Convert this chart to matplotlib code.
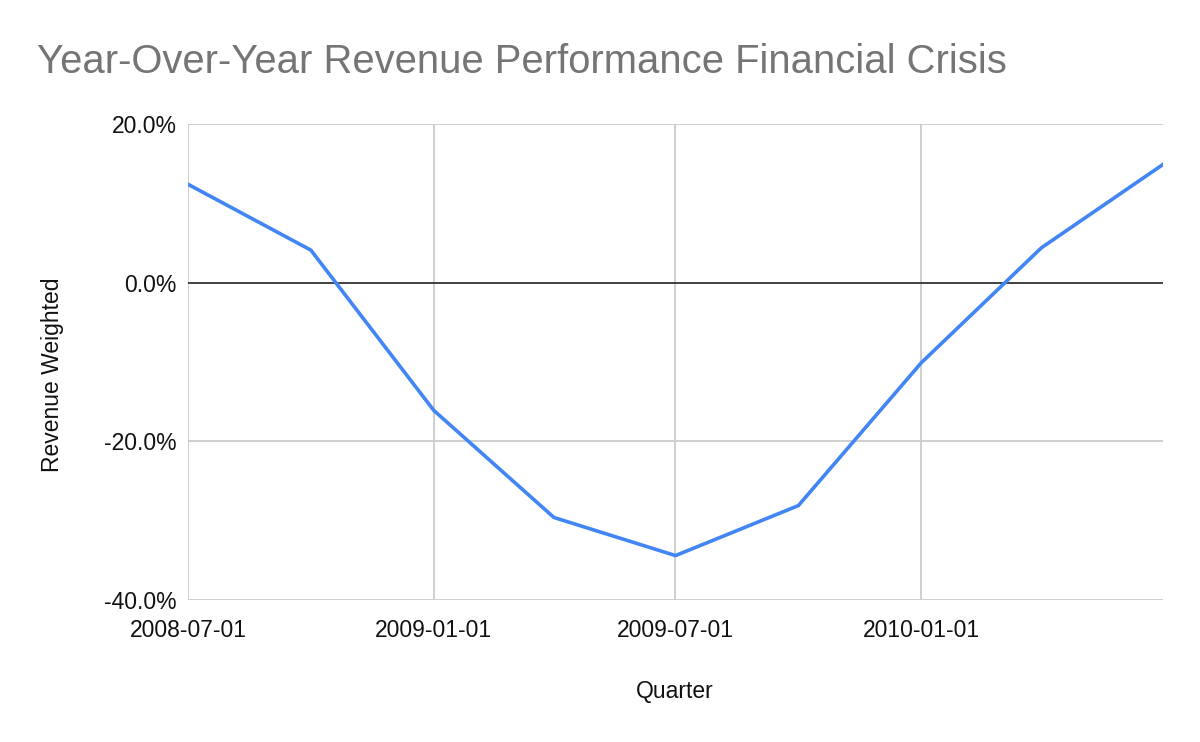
import numpy as np
import matplotlib
matplotlib.use("Agg")
from matplotlib import pyplot as plt
import matplotlib.dates as mdates
from matplotlib.ticker import FuncFormatter
import datetime as dt

plt.rcParams['font.family'] = ['Liberation Sans', 'DejaVu Sans']

# data
quarters = ["2008-07-01", "2008-10-01", "2009-01-01", "2009-04-01", "2009-07-01",
            "2009-10-01", "2010-01-01", "2010-04-01", "2010-07-01"]
revenue_weighted = [12.4, 4.1, -16.1, -29.6, -34.4, -28.1, -10.1, 4.4, 14.9]
tick_dates = ["2008-07-01", "2009-01-01", "2009-07-01", "2010-01-01"]
y_ticks = [20, 0, -20, -40]

dates = [dt.datetime.strptime(q, "%Y-%m-%d") for q in quarters]
tdates = [dt.datetime.strptime(q, "%Y-%m-%d") for q in tick_dates]

fig = plt.figure(figsize=(12, 7.42), dpi=100)
ax = fig.add_axes([188/1200, 1-600/742, (1163-188)/1200, (600-124)/742])

for d in tdates:
    ax.axvline(d, color="#cccccc", lw=1.3, zorder=1)
for v in y_ticks:
    ax.axhline(v, color="#333333" if v == 0 else "#cccccc", lw=1.3, zorder=1)

ax.plot(dates, revenue_weighted, color="#4285f4", lw=2.6, zorder=3,
        solid_joinstyle="miter")

ax.set_xlim(dates[0], dates[-1])
ax.set_ylim(-40, 20)
ax.set_xticks(tdates)
ax.xaxis.set_major_formatter(mdates.DateFormatter("%Y-%m-%d"))
ax.set_yticks(y_ticks)
ax.yaxis.set_major_formatter(FuncFormatter(lambda v, p: f"{v:.1f}%"))
ax.tick_params(length=0, labelsize=16.5, colors="#111111")
ax.tick_params(axis="x", pad=14)
ax.tick_params(axis="y", pad=8)
for s in ax.spines.values():
    s.set_visible(False)

ax.set_xlabel("Quarter", fontsize=16.5, color="#111111")
ax.set_ylabel("Revenue Weighted", fontsize=16.5, color="#111111")
ax.xaxis.set_label_coords((675-188)/975, -(680-600)/476)
ax.yaxis.set_label_coords(-(188-64)/975, (600-375)/476)

fig.text(37/1200, 1-62/742, "Year-Over-Year Revenue Performance Financial Crisis",
         fontsize=28.8, color="#757575", va="center", ha="left")

fig.savefig("out.png", dpi=100, facecolor="white")
